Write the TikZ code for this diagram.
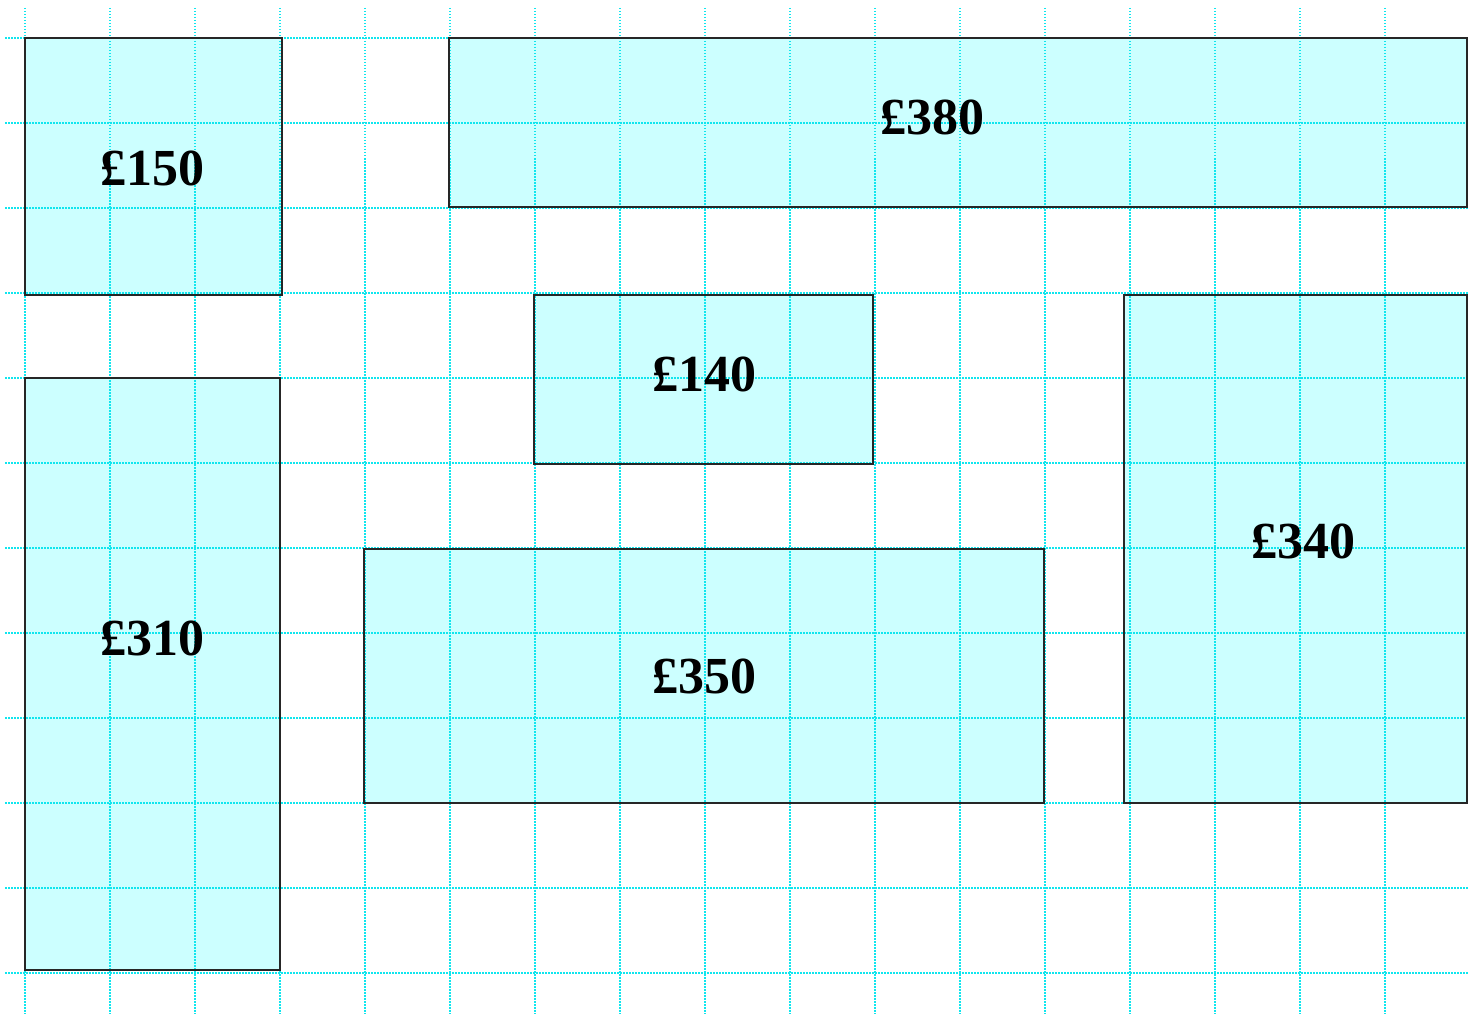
\documentclass[tikz,border=0pt]{standalone}
\usepackage{fontspec}
\setmainfont{Liberation Serif}
\definecolor{boxfill}{HTML}{CCFFFF}
\definecolor{gridcol}{HTML}{10E6EE}
\begin{document}
\begin{tikzpicture}[x=1pt,y=-1pt,
  boxfillstyle/.style={fill=boxfill},
  pricebox/.style={draw=black!85,line width=2.4pt},
  gridline/.style={draw=gridcol,line width=1.4pt,dash pattern=on 1.5pt off 1.5pt},
  price/.style={font=\fontsize{52}{54}\selectfont\bfseries,inner sep=0pt}]
\useasboundingbox (0,0) rectangle (1468,1014);
% box corners
\coordinate (a1) at (25,38);   \coordinate (a2) at (282,295);
\coordinate (b1) at (449,38);  \coordinate (b2) at (1467,207);
\coordinate (c1) at (534,295); \coordinate (c2) at (873,464);
\coordinate (d1) at (1124,295);\coordinate (d2) at (1467,803);
\coordinate (e1) at (25,378);  \coordinate (e2) at (280,970);
\coordinate (f1) at (364,549); \coordinate (f2) at (1044,803);
% fills
\foreach \p in {a,b,c,d,e,f} {
  \fill[boxfillstyle] (\p1) rectangle (\p2);
}
% grid
\begin{scope}
\clip (0,0) rectangle (1468,1014);
\foreach \k in {0,...,17} {
  \draw[gridline] ({25+85*\k},8) -- ({25+85*\k},1014);
}
\foreach \k in {0,...,11} {
  \draw[gridline] (5,{38+85*\k}) -- (1468,{38+85*\k});
}
\end{scope}
% borders
\foreach \p in {a,b,c,d,e,f} {
  \draw[pricebox] (\p1) rectangle (\p2);
}
% labels
\node[price] (p150) at (152,168) {£150};
\node[price] (p380) at (932,117) {£380};
\node[price] (p140) at (704,374) {£140};
\node[price] (p340) at (1303,541) {£340};
\node[price] (p310) at (152,638) {£310};
\node[price] (p350) at (704,676) {£350};
\end{tikzpicture}
\end{document}
